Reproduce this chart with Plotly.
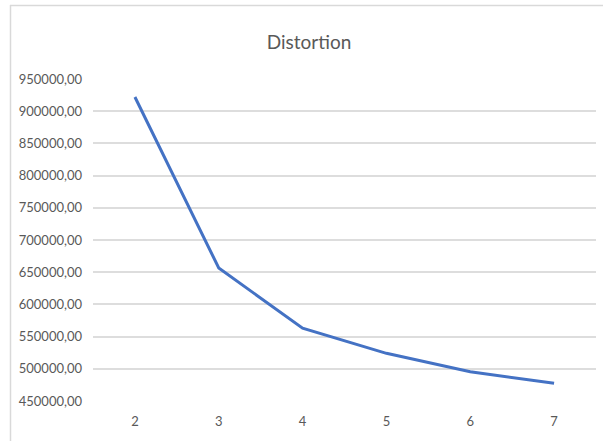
import plotly.graph_objects as go

clusters = [2, 3, 4, 5, 6, 7]
distortion = [922000, 656500, 563000, 524000, 495500, 477500]
y_ticks = [450000, 500000, 550000, 600000, 650000, 700000, 750000, 800000, 850000, 900000, 950000]
y_tick_labels = [f"{v},00" for v in y_ticks]
x_tick_labels = [str(c) for c in clusters]

FONT = "Lato, Liberation Sans Narrow, sans-serif"
W, H = 603, 441
ML, MR, MT, MB = 93, 7, 79, 40

fig = go.Figure()
fig.add_trace(go.Scatter(
    x=clusters, y=distortion, mode="lines",
    line=dict(color="#4472C4", width=3),
    hoverinfo="skip", showlegend=False,
))

pw = W - ML - MR
ph = H - MT - MB
def px_x(p):
    return (p - ML) / pw
def px_y(p):
    return 1 - (p - MT) / ph

fig.update_layout(
    width=W, height=H,
    margin=dict(l=ML, r=MR, t=MT, b=MB),
    paper_bgcolor="white", plot_bgcolor="white",
    title=dict(text="Distortion", x=309 / W, xanchor="center", y=1 - 42 / H, yanchor="middle",
               font=dict(family=FONT, size=19, color="#595959")),
    font=dict(family=FONT, color="#595959"),
    xaxis=dict(range=[1.5, 7.5], tickvals=clusters, ticktext=x_tick_labels,
               showgrid=False, zeroline=False, showline=False, ticks="",
               tickfont=dict(size=13, color="#595959"), ticklabelstandoff=11),
    yaxis=dict(range=[450000, 950000], tickvals=y_ticks, ticktext=y_tick_labels,
               showgrid=True, gridcolor="#DDDDDD", gridwidth=1.5, zeroline=False,
               showline=False, ticks="", tickfont=dict(size=13, color="#595959"),
               ticklabelstandoff=10),
    shapes=[
        dict(type="line", xref="paper", yref="paper", x0=px_x(10), x1=px_x(W + 5),
             y0=px_y(5.5), y1=px_y(5.5), line=dict(color="#D9D9D9", width=1.5)),
        dict(type="line", xref="paper", yref="paper", x0=px_x(10.5), x1=px_x(10.5),
             y0=px_y(5), y1=px_y(H + 5), line=dict(color="#D9D9D9", width=1.5)),
    ],
)

fig.write_html("out.html")
